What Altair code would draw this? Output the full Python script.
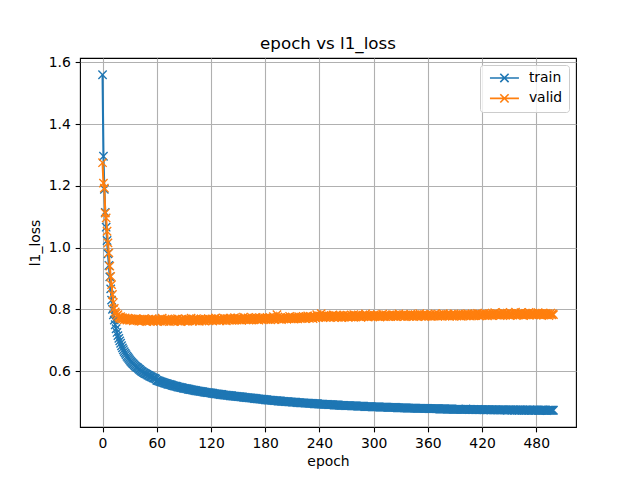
import altair as alt
import pandas as pd

epochs = list(range(500))

train = [
    1.560, 1.296, 1.189, 1.114, 1.066, 1.023, 0.980, 0.942, 0.905, 0.866, 0.830, 0.800, 0.782, 0.765, 0.750, 0.737, 0.725, 0.715, 0.706, 0.698,
    0.690, 0.682, 0.675, 0.669, 0.663, 0.658, 0.653, 0.648, 0.644, 0.640, 0.636, 0.632, 0.629, 0.626, 0.623, 0.620, 0.617, 0.614, 0.612, 0.610,
    0.607, 0.605, 0.602, 0.600, 0.598, 0.596, 0.594, 0.592, 0.591, 0.589, 0.587, 0.586, 0.584, 0.583, 0.581, 0.580, 0.578, 0.577, 0.576, 0.574,
    0.570, 0.569, 0.568, 0.567, 0.566, 0.565, 0.564, 0.563, 0.562, 0.561, 0.560, 0.559, 0.558, 0.557, 0.557, 0.556, 0.555, 0.554, 0.553, 0.552,
    0.551, 0.551, 0.550, 0.549, 0.548, 0.548, 0.547, 0.546, 0.546, 0.545, 0.544, 0.544, 0.543, 0.543, 0.542, 0.541, 0.541, 0.540, 0.540, 0.539,
    0.538, 0.538, 0.537, 0.537, 0.536, 0.536, 0.535, 0.535, 0.534, 0.534, 0.533, 0.533, 0.532, 0.532, 0.531, 0.531, 0.530, 0.530, 0.530, 0.529,
    0.529, 0.528, 0.528, 0.527, 0.527, 0.526, 0.526, 0.526, 0.525, 0.525, 0.524, 0.524, 0.524, 0.523, 0.523, 0.522, 0.522, 0.522, 0.521, 0.521,
    0.521, 0.520, 0.520, 0.520, 0.519, 0.519, 0.519, 0.518, 0.518, 0.518, 0.517, 0.517, 0.517, 0.516, 0.516, 0.516, 0.515, 0.515, 0.515, 0.514,
    0.514, 0.514, 0.513, 0.513, 0.513, 0.512, 0.512, 0.512, 0.511, 0.511, 0.511, 0.510, 0.510, 0.510, 0.509, 0.509, 0.509, 0.508, 0.508, 0.508,
    0.507, 0.507, 0.507, 0.506, 0.506, 0.506, 0.506, 0.505, 0.505, 0.505, 0.504, 0.504, 0.504, 0.504, 0.503, 0.503, 0.503, 0.503, 0.502, 0.502,
    0.502, 0.502, 0.501, 0.501, 0.501, 0.501, 0.500, 0.500, 0.500, 0.500, 0.499, 0.499, 0.499, 0.499, 0.499, 0.498, 0.498, 0.498, 0.498, 0.497,
    0.497, 0.497, 0.497, 0.497, 0.496, 0.496, 0.496, 0.496, 0.496, 0.495, 0.495, 0.495, 0.495, 0.495, 0.494, 0.494, 0.494, 0.494, 0.494, 0.493,
    0.493, 0.493, 0.493, 0.493, 0.493, 0.492, 0.492, 0.492, 0.492, 0.492, 0.491, 0.491, 0.491, 0.491, 0.491, 0.491, 0.490, 0.490, 0.490, 0.490,
    0.490, 0.490, 0.489, 0.489, 0.489, 0.489, 0.489, 0.489, 0.488, 0.488, 0.488, 0.488, 0.488, 0.488, 0.488, 0.487, 0.487, 0.487, 0.487, 0.487,
    0.487, 0.487, 0.486, 0.486, 0.486, 0.486, 0.486, 0.486, 0.486, 0.486, 0.485, 0.485, 0.485, 0.485, 0.485, 0.485, 0.485, 0.485, 0.484, 0.484,
    0.484, 0.484, 0.484, 0.484, 0.484, 0.484, 0.484, 0.483, 0.483, 0.483, 0.483, 0.483, 0.483, 0.483, 0.483, 0.483, 0.482, 0.482, 0.482, 0.482,
    0.482, 0.482, 0.482, 0.482, 0.482, 0.482, 0.481, 0.481, 0.481, 0.481, 0.481, 0.481, 0.481, 0.481, 0.481, 0.481, 0.481, 0.480, 0.480, 0.480,
    0.480, 0.480, 0.480, 0.480, 0.480, 0.480, 0.480, 0.480, 0.479, 0.479, 0.479, 0.479, 0.479, 0.479, 0.479, 0.479, 0.479, 0.479, 0.479, 0.479,
    0.479, 0.478, 0.478, 0.478, 0.478, 0.478, 0.478, 0.478, 0.478, 0.478, 0.478, 0.478, 0.478, 0.477, 0.477, 0.477, 0.477, 0.477, 0.477, 0.477,
    0.477, 0.477, 0.477, 0.477, 0.477, 0.477, 0.477, 0.477, 0.476, 0.476, 0.476, 0.476, 0.476, 0.476, 0.476, 0.476, 0.476, 0.476, 0.476, 0.476,
    0.476, 0.476, 0.477, 0.476, 0.476, 0.476, 0.475, 0.476, 0.476, 0.475, 0.475, 0.476, 0.475, 0.475, 0.475, 0.476, 0.475, 0.475, 0.475, 0.475,
    0.475, 0.475, 0.474, 0.475, 0.475, 0.475, 0.474, 0.475, 0.475, 0.474, 0.474, 0.475, 0.474, 0.474, 0.474, 0.475, 0.474, 0.474, 0.474, 0.474,
    0.474, 0.474, 0.474, 0.474, 0.474, 0.474, 0.474, 0.474, 0.473, 0.474, 0.474, 0.474, 0.474, 0.473, 0.474, 0.474, 0.473, 0.474, 0.474, 0.473,
    0.474, 0.473, 0.474, 0.474, 0.473, 0.474, 0.473, 0.473, 0.474, 0.473, 0.474, 0.473, 0.473, 0.474, 0.473, 0.473, 0.473, 0.474, 0.473, 0.473,
    0.473, 0.474, 0.473, 0.473, 0.473, 0.473, 0.473, 0.474, 0.473, 0.473, 0.473, 0.473, 0.472, 0.473, 0.473, 0.473, 0.473, 0.473, 0.473, 0.473,
]

valid = [
    1.275, 1.209, 1.193, 1.112, 1.096, 1.053, 1.015, 0.983, 0.940, 0.907, 0.880, 0.848, 0.822, 0.803, 0.792, 0.787, 0.779, 0.783, 0.775, 0.771,
    0.776, 0.769, 0.773, 0.770, 0.766, 0.772, 0.768, 0.765, 0.771, 0.767, 0.764, 0.770, 0.766, 0.769, 0.763, 0.768, 0.765, 0.770, 0.764, 0.767,
    0.762, 0.768, 0.765, 0.761, 0.767, 0.764, 0.769, 0.763, 0.766, 0.760, 0.765, 0.768, 0.762, 0.766, 0.764, 0.770, 0.761, 0.765, 0.767, 0.763,
    0.766, 0.760, 0.764, 0.768, 0.762, 0.765, 0.771, 0.763, 0.761, 0.767, 0.764, 0.762, 0.769, 0.765, 0.760, 0.766, 0.763, 0.768, 0.762, 0.765,
    0.761, 0.767, 0.764, 0.770, 0.762, 0.766, 0.763, 0.760, 0.768, 0.764, 0.766, 0.762, 0.769, 0.765, 0.761, 0.767, 0.763, 0.766, 0.771, 0.764,
    0.762, 0.768, 0.765, 0.763, 0.770, 0.764, 0.767, 0.761, 0.766, 0.769, 0.763, 0.767, 0.765, 0.762, 0.768, 0.766, 0.764, 0.770, 0.763, 0.767,
    0.765, 0.769, 0.763, 0.768, 0.766, 0.772, 0.764, 0.767, 0.770, 0.765, 0.763, 0.769, 0.767, 0.764, 0.771, 0.766, 0.768, 0.763, 0.770, 0.767,
    0.765, 0.771, 0.768, 0.764, 0.770, 0.767, 0.773, 0.766, 0.769, 0.765, 0.772, 0.768, 0.766, 0.770, 0.764, 0.769, 0.775, 0.767, 0.771, 0.766,
    0.768, 0.772, 0.765, 0.770, 0.767, 0.773, 0.769, 0.766, 0.771, 0.768, 0.774, 0.767, 0.770, 0.765, 0.772, 0.769, 0.767, 0.773, 0.770, 0.768,
    0.771, 0.767, 0.774, 0.770, 0.768, 0.773, 0.766, 0.771, 0.769, 0.776, 0.770, 0.767, 0.772, 0.783, 0.775, 0.768, 0.771, 0.773, 0.767, 0.770,
    0.772, 0.769, 0.775, 0.771, 0.768, 0.774, 0.770, 0.777, 0.772, 0.769, 0.775, 0.771, 0.768, 0.774, 0.770, 0.773, 0.769, 0.776, 0.772, 0.770,
    0.775, 0.771, 0.777, 0.773, 0.770, 0.776, 0.772, 0.779, 0.774, 0.771, 0.777, 0.773, 0.775, 0.770, 0.778, 0.774, 0.772, 0.783, 0.776, 0.773,
    0.779, 0.775, 0.786, 0.777, 0.773, 0.780, 0.776, 0.774, 0.781, 0.777, 0.775, 0.779, 0.773, 0.778, 0.776, 0.782, 0.774, 0.777, 0.780, 0.775,
    0.778, 0.774, 0.780, 0.776, 0.779, 0.773, 0.777, 0.782, 0.775, 0.778, 0.776, 0.781, 0.774, 0.779, 0.777, 0.775, 0.780, 0.776, 0.783, 0.777,
    0.775, 0.780, 0.777, 0.782, 0.776, 0.779, 0.774, 0.778, 0.781, 0.776, 0.779, 0.785, 0.777, 0.780, 0.775, 0.778, 0.782, 0.776, 0.779, 0.777,
    0.781, 0.776, 0.780, 0.778, 0.783, 0.777, 0.779, 0.775, 0.781, 0.778, 0.784, 0.777, 0.780, 0.776, 0.782, 0.779, 0.777, 0.781, 0.778, 0.776,
    0.780, 0.783, 0.777, 0.781, 0.779, 0.776, 0.782, 0.778, 0.785, 0.779, 0.777, 0.781, 0.778, 0.783, 0.776, 0.780, 0.782, 0.778, 0.781, 0.777,
    0.779, 0.784, 0.778, 0.781, 0.776, 0.780, 0.783, 0.779, 0.777, 0.782, 0.778, 0.786, 0.780, 0.777, 0.781, 0.779, 0.783, 0.776, 0.780, 0.782,
    0.778, 0.781, 0.779, 0.784, 0.777, 0.782, 0.780, 0.778, 0.785, 0.779, 0.781, 0.777, 0.783, 0.780, 0.778, 0.782, 0.779, 0.786, 0.781, 0.778,
    0.782, 0.779, 0.784, 0.780, 0.777, 0.781, 0.783, 0.778, 0.780, 0.785, 0.779, 0.782, 0.778, 0.781, 0.784, 0.779, 0.782, 0.777, 0.781, 0.783,
    0.780, 0.784, 0.779, 0.782, 0.786, 0.780, 0.783, 0.778, 0.782, 0.785, 0.781, 0.779, 0.784, 0.780, 0.783, 0.787, 0.781, 0.779, 0.784, 0.782,
    0.780, 0.785, 0.782, 0.788, 0.781, 0.784, 0.779, 0.783, 0.786, 0.781, 0.784, 0.780, 0.785, 0.782, 0.789, 0.783, 0.781, 0.786, 0.782, 0.784,
    0.780, 0.785, 0.783, 0.790, 0.782, 0.786, 0.781, 0.784, 0.788, 0.782, 0.785, 0.780, 0.787, 0.783, 0.781, 0.786, 0.784, 0.791, 0.782, 0.785,
    0.781, 0.786, 0.783, 0.789, 0.782, 0.785, 0.780, 0.784, 0.787, 0.782, 0.786, 0.783, 0.790, 0.781, 0.785, 0.783, 0.788, 0.782, 0.786, 0.784,
    0.781, 0.785, 0.789, 0.783, 0.786, 0.782, 0.784, 0.788, 0.781, 0.785, 0.783, 0.787, 0.782, 0.786, 0.780, 0.784, 0.788, 0.782, 0.785, 0.783,
]

series_names = ["train", "valid"]
series_colors = ["#1f77b4", "#ff7f0e"]
x_ticks = [0, 60, 120, 180, 240, 300, 360, 420, 480]
y_ticks = [0.6, 0.8, 1.0, 1.2, 1.4, 1.6]

df = pd.DataFrame({
    "epoch": epochs + epochs,
    "l1_loss": train + valid,
    "series": ["train"] * len(train) + ["valid"] * len(valid),
})

X_MARK = "M-1,-1L1,1M-1,1L1,-1"
# legend handle: a ~29px line with an 8px cross in its middle (units of 5px)
LEGEND_SYMBOL = "M-0.6,0L5.2,0M1.47,-0.83L3.13,0.83M1.47,0.83L3.13,-0.83"

color_scale = alt.Scale(domain=series_names, range=series_colors)

x_enc = alt.X(
    "epoch:Q",
    scale=alt.Scale(domain=[-24.95, 523.95], nice=False, zero=False),
    axis=alt.Axis(values=x_ticks, title="epoch", format="d"),
)
y_enc = alt.Y(
    "l1_loss:Q",
    scale=alt.Scale(domain=[0.4187, 1.6143], nice=False, zero=False),
    axis=alt.Axis(values=y_ticks, title="l1_loss", format=".1f"),
)

base = alt.Chart(df)
layers = []
for i, name in enumerate(series_names):
    sub = base.transform_filter(alt.datum.series == name)
    if i == 0:
        c_enc = alt.Color(
            "series:N",
            scale=color_scale,
            legend=alt.Legend(
                title=None,
                orient="top-right",
                offset=7,
                symbolType=LEGEND_SYMBOL,
                symbolSize=100,
                symbolStrokeWidth=1.6,
                symbolFillColor="transparent",
                labelFont="DejaVu Sans",
                labelFontSize=13.9,
                labelColor="black",
                labelOffset=29,
                padding=6,
                rowPadding=4.4,
                strokeColor="#cccccc",
                fillColor="rgba(255,255,255,0.8)",
                cornerRadius=3,
            ),
        )
    else:
        c_enc = alt.Color("series:N", scale=color_scale)
    line = sub.mark_line(strokeWidth=2.08, clip=True).encode(x=x_enc, y=y_enc, color=c_enc)
    pts = sub.mark_point(shape=X_MARK, size=69, filled=False, strokeWidth=1.39, opacity=1, clip=True).encode(
        x=x_enc, y=y_enc, color=alt.Color("series:N", scale=color_scale)
    )
    layers += [line, pts]

chart = alt.layer(*layers).properties(
    width=496,
    height=369,
    title="epoch vs l1_loss",
    autosize=alt.AutoSizeParams(type="none"),
    padding={"left": 72, "top": 50, "right": 56, "bottom": 45},
    background="white",
).configure_view(
    stroke="black", strokeWidth=1.1
).configure_axis(
    labelFont="DejaVu Sans", labelFontSize=13.9, labelColor="black",
    titleFont="DejaVu Sans", titleFontSize=13.9, titleFontWeight="normal", titleColor="black",
    tickColor="black", tickSize=4.86, tickWidth=1.1, labelPadding=4.86,
    grid=True, gridColor="#b0b0b0", gridWidth=1.1, domain=False,
).configure_axisX(titlePadding=4).configure_axisY(titlePadding=6).configure_title(
    font="DejaVu Sans", fontSize=16.7, fontWeight="normal", color="black", offset=3, anchor="middle"
)

chart.save("out.html", embed_options={"renderer": "svg", "actions": False})
